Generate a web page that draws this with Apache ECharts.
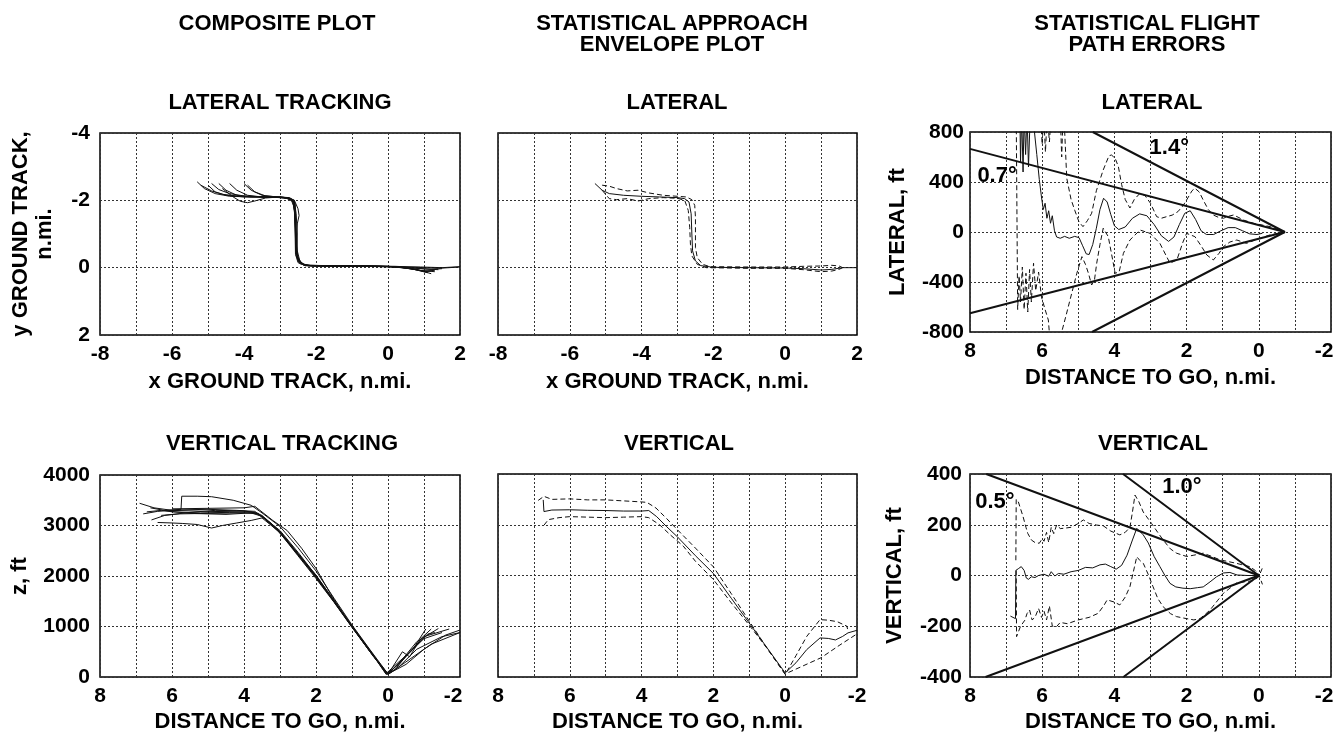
<!DOCTYPE html>
<html>
<head>
<meta charset="utf-8">
<script src="https://cdn.jsdelivr.net/npm/echarts@6/dist/echarts.min.js"></script>
<style>
  html, body { margin: 0; padding: 0; background: #fff; }
  #chart { width: 1338px; height: 732px; }
</style>
</head>
<body>
<div id="chart"></div>
<script>
// ---- lateral tracking, composite (x ground track, y ground track), n.mi.
const ltTrack1 = [[-5.3,-2.55],[-5.1,-2.35],[-4.8,-2.2],[-4.4,-2.12],[-3.8,-2.1],[-3.2,-2.09],[-2.8,-2.07],[-2.62,-1.95],[-2.58,-1.5],[-2.56,-0.9],[-2.55,-0.45],[-2.48,-0.2],[-2.35,-0.08],[-2.0,-0.05],[-1.0,-0.04],[0.0,-0.03],[0.6,0.0],[1.2,0.05],[1.5,0.03]];
const ltTrack2 = [[-5.0,-2.45],[-4.8,-2.25],[-4.5,-2.15],[-4.0,-2.1],[-3.5,-2.1],[-2.9,-2.08],[-2.7,-2.03],[-2.6,-1.8],[-2.57,-1.2],[-2.55,-0.6],[-2.5,-0.3],[-2.4,-0.12],[-2.2,-0.06],[-1.5,-0.05],[-0.5,-0.04],[0.3,-0.02],[0.9,0.08],[1.3,0.12]];
const ltTrack3 = [[-4.7,-2.5],[-4.5,-2.3],[-4.2,-2.15],[-3.8,-2.1],[-3.2,-2.1],[-2.8,-2.06],[-2.6,-1.95],[-2.55,-1.6],[-2.52,-1.0],[-2.52,-0.5],[-2.45,-0.2],[-2.3,-0.07],[-1.8,-0.05],[-0.8,-0.05],[0.2,-0.04],[0.8,-0.01],[1.4,0.02],[2.0,-0.02]];
const ltTrack4 = [[-4.4,-2.5],[-4.2,-2.3],[-3.9,-2.15],[-3.5,-2.1],[-3.0,-2.1],[-2.75,-2.07],[-2.6,-2.0],[-2.5,-1.75],[-2.47,-1.55],[-2.52,-1.3],[-2.55,-0.8],[-2.52,-0.35],[-2.4,-0.12],[-2.1,-0.05],[-1.0,-0.05],[0.0,-0.04],[0.7,0.04],[1.1,0.15]];
const ltTrack5 = [[-4.0,-2.5],[-3.8,-2.3],[-3.5,-2.15],[-3.1,-2.1],[-2.8,-2.08],[-2.65,-2.0],[-2.6,-1.7],[-2.58,-1.0],[-2.57,-0.4],[-2.5,-0.15],[-2.3,-0.06],[-1.5,-0.05],[-0.3,-0.05],[0.4,0.0],[1.0,0.1],[1.3,0.08]];
const ltTrack6 = [[-4.6,-2.35],[-4.3,-2.1],[-4.1,-1.97],[-3.9,-1.93],[-3.7,-1.98],[-3.4,-2.07],[-3.0,-2.1],[-2.75,-2.08],[-2.6,-2.0],[-2.56,-1.4],[-2.55,-0.7],[-2.5,-0.25],[-2.35,-0.08],[-1.8,-0.06],[-0.7,-0.05],[0.2,-0.03],[0.8,0.05],[1.2,0.18]];
const ltTrack7 = [[-5.2,-2.45],[-4.9,-2.28],[-4.6,-2.18],[-4.2,-2.13],[-3.6,-2.11],[-3.0,-2.09],[-2.7,-2.05],[-2.6,-1.9],[-2.57,-1.3],[-2.56,-0.5],[-2.47,-0.18],[-2.3,-0.07],[-1.5,-0.06],[-0.5,-0.05],[0.3,-0.03],[0.9,0.03],[1.4,0.06]];
const ltTrack8 = [[-3.9,-2.45],[-3.7,-2.25],[-3.4,-2.13],[-3.0,-2.1],[-2.7,-2.06],[-2.58,-1.9],[-2.56,-1.1],[-2.55,-0.55],[-2.5,-0.2],[-2.3,-0.06],[-1.2,-0.05],[0.0,-0.04],[0.6,0.02],[1.0,0.12],[1.2,0.1]];
const ltTrack9 = [[-4.9,-2.5],[-4.7,-2.32],[-4.4,-2.2],[-4.0,-2.13],[-3.4,-2.1],[-2.9,-2.08],[-2.65,-2.0],[-2.59,-1.6],[-2.57,-0.9],[-2.55,-0.35],[-2.45,-0.12],[-2.2,-0.05],[-1.0,-0.04],[0.1,-0.03],[0.9,-0.02],[1.5,0.0],[2.0,-0.03]];
const lateralTracks = [ltTrack1, ltTrack2, ltTrack3, ltTrack4, ltTrack5, ltTrack6, ltTrack7, ltTrack8, ltTrack9];

// ---- lateral envelope (mean, upper, lower)
const latEnvMean = [[-5.3,-2.5],[-5.1,-2.3],[-4.9,-2.2],[-4.5,-2.15],[-4.0,-2.12],[-3.5,-2.1],[-3.0,-2.08],[-2.8,-2.05],[-2.68,-1.95],[-2.62,-1.6],[-2.6,-1.0],[-2.58,-0.5],[-2.5,-0.2],[-2.35,-0.06],[-2.0,-0.01],[-1.0,0.0],[0.0,0.01],[0.5,0.03],[1.0,0.07],[1.3,0.05],[1.6,0.0],[2.0,0.0]];
const latEnvUpper = [[-5.1,-2.45],[-4.9,-2.42],[-4.7,-2.35],[-4.4,-2.28],[-4.1,-2.3],[-3.8,-2.22],[-3.4,-2.15],[-3.0,-2.12],[-2.75,-2.1],[-2.6,-2.02],[-2.52,-1.85],[-2.5,-1.5],[-2.5,-1.0],[-2.5,-0.6],[-2.45,-0.3],[-2.3,-0.1],[-2.1,-0.03],[-1.0,-0.02],[0.0,-0.02],[0.5,-0.04],[1.0,-0.05],[1.3,-0.07],[1.5,-0.05],[1.6,0.0]];
const latEnvLower = [[-5.1,-2.3],[-4.9,-2.05],[-4.7,-2.02],[-4.4,-2.05],[-4.1,-1.98],[-3.8,-2.05],[-3.4,-2.08],[-3.0,-2.06],[-2.8,-2.0],[-2.7,-1.7],[-2.66,-1.2],[-2.64,-0.7],[-2.6,-0.35],[-2.45,-0.1],[-2.2,0.0],[-1.0,0.02],[0.0,0.02],[0.5,0.06],[1.0,0.12],[1.3,0.1],[1.5,0.05],[1.6,0.0]];

// ---- lateral flight path errors, ft vs distance to go
const latErrMean = [[6.62,950],[6.6,560],[6.57,950],[6.53,480],[6.5,950],[6.46,620],[6.42,950],[6.38,520],[6.33,950],[6.25,900],[6.15,620],[6.08,420],[6.02,280],[5.97,180],[5.92,230],[5.87,110],[5.82,170],[5.77,70],[5.72,130],[5.66,10],[5.6,-40],[5.5,-50],[5.38,-35],[5.25,-50],[5.1,-35],[4.98,-45],[4.88,-110],[4.78,-175],[4.7,-180],[4.6,-100],[4.5,30],[4.4,180],[4.3,270],[4.2,240],[4.1,140],[4.0,50],[3.88,20],[3.7,40],[3.5,110],[3.3,145],[3.1,130],[2.9,60],[2.7,-30],[2.5,-75],[2.35,-40],[2.2,60],[2.05,150],[1.9,170],[1.75,100],[1.6,10],[1.45,-20],[1.25,-20],[1.05,10],[0.85,35],[0.65,35],[0.45,10],[0.25,-15],[0.05,-20],[-0.1,-10]];
const latErrUpper = [[6.05,950],[6.0,700],[5.96,950],[5.91,640],[5.86,950],[5.8,720],[5.75,950],[5.5,950],[5.46,600],[5.42,950],[5.38,820],[5.32,430],[5.2,260],[5.1,175],[4.98,80],[4.87,43],[4.75,90],[4.63,150],[4.5,330],[4.31,496],[4.15,610],[4.08,616],[3.98,590],[3.89,523],[3.8,380],[3.7,260],[3.57,192],[3.45,260],[3.29,310],[3.15,290],[3.0,230],[2.83,123],[2.7,110],[2.55,123],[2.4,135],[2.24,163],[2.1,210],[2.0,256],[1.85,330],[1.77,350],[1.65,320],[1.54,256],[1.4,180],[1.26,136],[1.1,115],[0.98,110],[0.85,125],[0.7,136],[0.55,115],[0.43,96],[0.15,70],[-0.31,43],[-0.72,0]];
const latErrLower = [[6.72,950],[6.68,-620],[6.64,-350],[6.6,-560],[6.55,-280],[6.5,-620],[6.45,-330],[6.4,-640],[6.35,-300],[6.3,-560],[6.24,-250],[6.18,-470],[6.1,-320],[6.02,-520],[5.92,-620],[5.83,-704],[5.76,-950],[5.5,-950],[5.46,-800],[5.35,-680],[5.23,-544],[5.04,-330],[4.9,-197],[4.8,-260],[4.72,-330],[4.63,-424],[4.55,-380],[4.49,-250],[4.4,-100],[4.31,30],[4.17,-37],[4.05,-220],[3.98,-330],[3.87,-320],[3.75,-170],[3.57,-64],[3.29,16],[3.01,-11],[2.74,-91],[2.46,-250],[2.27,-224],[2.1,-80],[2.0,-11],[1.77,-37],[1.6,-110],[1.44,-184],[1.26,-224],[1.1,-170],[0.98,-117],[0.8,-80],[0.61,-64],[0.34,-91],[0.1,-64],[-0.3,-24],[-0.72,0]];
const latCone07 = [[8,665],[-0.72,0],[8,-650]];
const latCone14 = [[4.6,800],[-0.72,0],[4.62,-800]];
const latConeNames = ['0.7°', '1.4°'];
const latConeNamePos = [[7.25,448],[2.48,675]];

// ---- vertical tracking, composite (distance to go n.mi., z ft)
const vtTrack1 = [[6.9,3440],[6.5,3350],[6.0,3300],[5.0,3280],[4.0,3270],[3.7,3260],[3.4,3120],[3.0,2880],[2.5,2450],[2.0,1990],[1.5,1500],[1.0,1000],[0.5,520],[0.05,60],[-0.3,250],[-0.7,560],[-1.05,950]];
const vtTrack2 = [[6.7,3270],[6.3,3300],[5.5,3240],[4.5,3220],[3.8,3250],[3.5,3180],[3.0,2850],[2.5,2400],[2.0,1950],[1.5,1480],[1.0,980],[0.5,500],[0.0,50],[-0.4,350],[-0.8,700],[-1.4,960]];
const vtTrack3 = [[6.57,3110],[6.2,3200],[5.5,3260],[4.8,3300],[4.0,3290],[3.6,3240],[3.0,2900],[2.5,2470],[2.0,2010],[1.5,1520],[1.0,1010],[0.5,530],[0.05,70],[-0.3,300],[-0.6,480],[-1.1,850],[-1.3,880]];
const vtTrack4 = [[6.2,3300],[5.75,3320],[5.73,3580],[5.3,3580],[4.9,3570],[4.3,3500],[3.8,3400],[3.5,3250],[3.0,2980],[2.5,2560],[2.0,2100],[1.5,1560],[1.0,1030],[0.5,540],[0.0,60],[-0.5,250],[-1.0,550],[-1.6,830],[-2.0,930]];
const vtTrack5 = [[6.4,3060],[6.0,3050],[5.7,3040],[5.3,3020],[4.9,2950],[4.6,3000],[4.2,3050],[3.8,3100],[3.5,3150],[3.0,2860],[2.5,2420],[2.0,1970],[1.5,1490],[1.0,990],[0.5,510],[0.0,60],[-0.5,420],[-1.0,760],[-1.5,880]];
const vtTrack6 = [[6.8,3230],[6.4,3280],[5.8,3310],[5.0,3320],[4.2,3300],[3.7,3280],[3.3,3070],[2.9,2790],[2.5,2430],[2.0,2000],[1.5,1500],[1.0,1000],[0.5,510],[0.0,55],[-0.4,500],[-0.6,400],[-0.9,750],[-1.2,950]];
const vtTrack7 = [[6.6,3350],[6.0,3270],[5.2,3250],[4.4,3260],[3.8,3270],[3.5,3200],[3.1,2950],[2.6,2520],[2.0,2020],[1.5,1510],[1.0,1010],[0.5,520],[0.05,50],[-0.2,150],[-0.6,500],[-1.0,800],[-1.7,950]];
const vtTrack8 = [[6.3,3200],[5.8,3230],[5.0,3240],[4.0,3250],[3.6,3230],[3.2,3010],[2.8,2680],[2.4,2330],[2.0,1980],[1.5,1490],[1.0,990],[0.5,500],[0.0,50],[-0.3,200],[-0.8,550],[-1.5,800],[-2.0,880]];
const vtTrack9 = [[6.0,3330],[5.0,3340],[4.0,3350],[3.7,3380],[3.2,3100],[2.8,2900],[2.4,2550],[2.0,2150],[1.6,1650],[1.2,1200],[0.8,800],[0.4,400],[0.0,50],[-0.5,300],[-1.2,650],[-2.0,880]];
const verticalTracks = [vtTrack1, vtTrack2, vtTrack3, vtTrack4, vtTrack5, vtTrack6, vtTrack7, vtTrack8, vtTrack9];

// ---- vertical envelope
const vertEnvMean = [[6.74,3490],[6.72,3260],[6.5,3290],[6.0,3295],[5.5,3285],[5.0,3280],[4.5,3270],[4.0,3270],[3.8,3280],[3.58,3160],[3.3,2960],[3.0,2760],[2.5,2390],[2.0,2040],[1.5,1550],[1.0,1060],[0.5,570],[0.0,80],[-0.3,280],[-0.6,540],[-0.97,770],[-1.2,760],[-1.4,730],[-1.6,800],[-1.75,870],[-2.0,920]];
const vertEnvUpper = [[6.88,3480],[6.72,3560],[6.5,3500],[6.0,3510],[5.5,3490],[5.0,3490],[4.5,3470],[4.0,3450],[3.85,3440],[3.6,3330],[3.3,3120],[3.0,2900],[2.5,2540],[2.0,2170],[1.5,1640],[1.0,1100],[0.5,560],[0.0,50],[-0.3,420],[-0.6,800],[-0.97,1130],[-1.2,1120],[-1.45,1090],[-1.72,1000],[-1.75,900]];
const vertEnvLower = [[6.72,2990],[6.6,3100],[6.3,3140],[6.0,3160],[5.5,3150],[5.0,3140],[4.5,3150],[4.0,3160],[3.8,3140],[3.5,3000],[3.2,2800],[2.84,2580],[2.5,2280],[2.0,1920],[1.5,1460],[1.0,1020],[0.5,560],[0.0,60],[-0.5,220],[-1.0,380],[-1.5,620],[-2.0,850]];

// ---- vertical flight path errors, ft
const vertErrMean = [[6.88,-160],[6.74,-170],[6.73,20],[6.65,28],[6.58,35],[6.5,20],[6.44,-10],[6.38,-15],[6.3,-5],[6.2,-8],[6.1,0],[5.95,5],[5.82,-3],[5.75,15],[5.65,-2],[5.55,8],[5.4,5],[5.2,15],[5.0,20],[4.8,32],[4.6,30],[4.4,42],[4.25,45],[4.1,35],[3.95,25],[3.8,40],[3.65,80],[3.5,140],[3.38,186],[3.2,160],[3.06,128],[2.9,75],[2.74,35],[2.6,0],[2.46,-31],[2.3,-45],[2.1,-50],[1.9,-52],[1.7,-48],[1.54,-45],[1.35,-25],[1.17,-5],[0.98,10],[0.8,12],[0.6,2],[0.3,0],[0.0,0]];
const vertErrUpper = [[6.73,60],[6.72,300],[6.66,290],[6.53,232],[6.45,190],[6.4,166],[6.3,140],[6.2,130],[6.08,127],[6.0,145],[5.95,135],[5.88,170],[5.82,130],[5.75,190],[5.68,165],[5.6,199],[5.5,185],[5.4,186],[5.2,190],[5.0,205],[4.86,219],[4.7,205],[4.5,199],[4.3,195],[4.1,175],[3.85,160],[3.7,170],[3.57,190],[3.5,250],[3.43,317],[3.32,290],[3.2,250],[2.97,205],[2.8,170],[2.65,140],[2.45,105],[2.28,88],[2.0,75],[1.8,80],[1.54,88],[1.3,75],[1.08,62],[0.85,55],[0.62,48],[0.4,40],[0.25,35],[0.1,20],[0.0,5],[-0.1,-35]];
const vertErrLower = [[6.72,20],[6.71,-241],[6.6,-200],[6.48,-176],[6.42,-150],[6.35,-136],[6.28,-175],[6.2,-165],[6.1,-130],[6.02,-165],[5.95,-140],[5.88,-175],[5.8,-120],[5.72,-200],[5.6,-201],[5.5,-185],[5.3,-190],[5.0,-175],[4.7,-165],[4.45,-149],[4.3,-120],[4.2,-96],[4.0,-105],[3.85,-116],[3.7,-85],[3.57,-44],[3.45,30],[3.38,74],[3.3,60],[3.2,48],[3.05,0],[2.93,-44],[2.8,-90],[2.65,-123],[2.45,-150],[2.28,-162],[2.0,-170],[1.8,-175],[1.63,-170],[1.5,-155],[1.35,-136],[1.15,-100],[0.98,-70],[0.8,-50],[0.62,-30],[0.4,-25],[0.15,-20],[0.0,-5],[-0.1,30]];
const vertCone05 = [[7.55,400],[0,0],[7.57,-400]];
const vertCone10 = [[3.76,400],[0,0],[3.75,-400]];
const vertConeNames = ['0.5°', '1.0°'];
const vertConeNamePos = [[7.31,290],[2.13,349]];

// ---- headings
const headings = [
  ['COMPOSITE PLOT', 277, 24],
  ['STATISTICAL APPROACH\nENVELOPE PLOT', 672, 34],
  ['STATISTICAL FLIGHT\nPATH ERRORS', 1147, 34],
  ['LATERAL TRACKING', 280, 103],
  ['LATERAL', 677, 103],
  ['LATERAL', 1152, 103],
  ['VERTICAL TRACKING', 282, 444],
  ['VERTICAL', 679, 444],
  ['VERTICAL', 1153, 444]
];

const FONT = '"Liberation Sans", Arial, Helvetica, sans-serif';
const INK = '#111';

function bold(size) {
  return { fontFamily: FONT, fontWeight: 'bold', fontSize: size, color: '#000' };
}

const gridLine = { show: true, lineStyle: { type: [2, 2], color: '#333', width: 1 } };

// edge: tick value whose label is nudged left so it stays inside the page
function xAxis(gi, min, max, inverse, name, gap, edge) {
  return {
    type: 'value', gridIndex: gi, min: min, max: max, interval: 1, inverse: inverse,
    name: name, nameLocation: 'middle', nameGap: gap,
    nameTextStyle: Object.assign(bold(22), { lineHeight: 22 }),
    axisLine: { show: false }, axisTick: { show: false },
    axisLabel: Object.assign(bold(21), {
      margin: 9,
      rich: { e: Object.assign(bold(21), { padding: [0, 14, 0, 0] }) },
      formatter: v => {
        if (v % 2 !== 0) return '';
        return v === edge ? '{e|' + v + '}' : String(v);
      }
    }),
    splitLine: gridLine
  };
}

function yAxis(gi, min, max, interval, inverse, name, gap, labels, margin) {
  return {
    type: 'value', gridIndex: gi, min: min, max: max, interval: interval, inverse: inverse,
    name: name, nameLocation: 'middle', nameGap: gap,
    nameTextStyle: Object.assign(bold(22), { lineHeight: 24 }),
    axisLine: { show: false }, axisTick: { show: false },
    axisLabel: Object.assign(bold(21), { show: labels, margin: margin, formatter: v => String(v) }),
    splitLine: gridLine
  };
}

function line(gi, data, dashed, width) {
  return {
    type: 'line', xAxisIndex: gi, yAxisIndex: gi, data: data,
    symbol: 'none', showSymbol: false, silent: true, clip: true,
    lineStyle: { color: INK, width: width || 1, type: dashed ? [5, 3] : 'solid' }
  };
}

const gridBox = { show: true, borderColor: '#000', borderWidth: 1.5, backgroundColor: 'transparent', containLabel: false, outerBoundsMode: 'none' };

const chart = echarts.init(document.getElementById('chart'));

const series = [];
lateralTracks.forEach(t => series.push(line(0, t, false, 1)));
series.push(line(1, latEnvMean, false, 1), line(1, latEnvUpper, true, 1), line(1, latEnvLower, true, 1));
series.push(line(2, latErrMean, false, 1), line(2, latErrUpper, true, 1), line(2, latErrLower, true, 1));
series.push(line(2, latCone07, false, 2), line(2, latCone14, false, 2));
verticalTracks.forEach(t => series.push(line(3, t, false, 1)));
series.push(line(4, vertEnvMean, false, 1), line(4, vertEnvUpper, true, 1), line(4, vertEnvLower, true, 1));
series.push(line(5, vertErrMean, false, 1), line(5, vertErrUpper, true, 1), line(5, vertErrLower, true, 1));
series.push(line(5, vertCone05, false, 2), line(5, vertCone10, false, 2));

const headingTexts = headings.map(h => ({
  type: 'text', x: h[1], y: h[2], silent: true,
  style: { text: h[0], align: 'center', verticalAlign: 'middle', font: 'bold 22px ' + FONT, fill: '#000', lineHeight: 21 }
}));

chart.setOption({
  animation: false,
  backgroundColor: '#fff',
  grid: [
    Object.assign({ left: 100, top: 133, width: 360, height: 202 }, gridBox),
    Object.assign({ left: 498, top: 133, width: 359, height: 202 }, gridBox),
    Object.assign({ left: 970, top: 132, width: 361, height: 200 }, gridBox),
    Object.assign({ left: 100, top: 475, width: 360, height: 202 }, gridBox),
    Object.assign({ left: 498, top: 474, width: 359, height: 203 }, gridBox),
    Object.assign({ left: 970, top: 474, width: 361, height: 203 }, gridBox)
  ],
  xAxis: [
    xAxis(0, -8, 2, false, 'x GROUND TRACK, n.mi.', 36),
    xAxis(1, -8, 2, false, 'x GROUND TRACK, n.mi.', 36),
    xAxis(2, -2, 8, true, 'DISTANCE TO GO, n.mi.', 35, -2),
    xAxis(3, -2, 8, true, 'DISTANCE TO GO, n.mi.', 34, -2),
    xAxis(4, -2, 8, true, 'DISTANCE TO GO, n.mi.', 34),
    xAxis(5, -2, 8, true, 'DISTANCE TO GO, n.mi.', 34, -2)
  ],
  yAxis: [
    yAxis(0, -4, 2, 2, true, 'y GROUND TRACK,\nn.mi.', 43, true, 10),
    yAxis(1, -4, 2, 2, true, '', 40, false, 10),
    yAxis(2, -800, 800, 400, false, 'LATERAL, ft', 60, true, 6),
    yAxis(3, 0, 4000, 1000, false, 'z, ft', 68, true, 10),
    yAxis(4, 0, 4000, 1000, false, '', 40, false, 10),
    yAxis(5, -400, 400, 200, false, 'VERTICAL, ft', 63, true, 8)
  ],
  series: series
});

// angle labels for the cone lines, placed through the grid's own scales
function angleTexts(gi, names, pos) {
  return names.map((n, i) => {
    const p = chart.convertToPixel({ gridIndex: gi }, pos[i]);
    return {
      type: 'text', x: p[0], y: p[1], silent: true, z: 100,
      style: { text: n, align: 'center', verticalAlign: 'middle', font: 'bold 22px ' + FONT, fill: '#000' }
    };
  });
}

chart.setOption({
  graphic: headingTexts
    .concat(angleTexts(2, latConeNames, latConeNamePos))
    .concat(angleTexts(5, vertConeNames, vertConeNamePos))
});
</script>
</body>
</html>
